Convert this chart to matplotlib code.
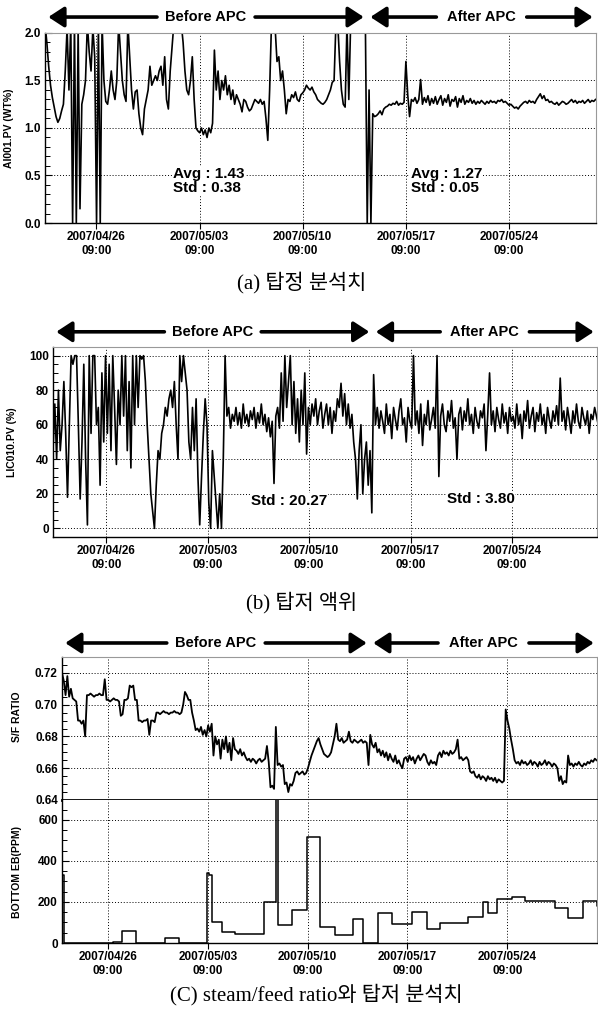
import matplotlib
matplotlib.use("Agg")
import matplotlib.pyplot as plt
import matplotlib.dates as mdates
from matplotlib.ticker import MultipleLocator, FormatStrFormatter
import numpy as np
import pandas as pd

plt.rcParams["font.family"] = ["Liberation Sans", "DejaVu Sans"]
plt.rcParams["font.weight"] = "bold"
plt.rcParams["axes.labelweight"] = "bold"

# ---------------- data ----------------
tick_times = ["2007-04-26 09:00", "2007-05-03 09:00", "2007-05-10 09:00",
              "2007-05-17 09:00", "2007-05-24 09:00"]
tick_labels = ["2007/04/26\n09:00", "2007/05/03\n09:00", "2007/05/10\n09:00",
               "2007/05/17\n09:00", "2007/05/24\n09:00"]
apc_switch = "2007-05-14 18:00"

# (a) top analyser AI001.PV, 3-hourly samples (x100)
ai001_start = "2007-04-22 21:15"
ai001_x100 = [
    210, 190, 165, 145, 132, 122, 112, 106, 110, 118,
    125, 160, 205, 140, 210, 0, 210, 0, 205, 15,
    125, 135, 150, 210, 180, 160, 205, 175, 0, 210,
    0, 210, 150, 128, 125, 140, 160, 140, 130, 150,
    210, 180, 150, 135, 128, 210, 175, 140, 120, 138,
    140, 115, 100, 93, 120, 130, 140, 165, 145, 150,
    155, 150, 160, 165, 145, 175, 130, 120, 160, 185,
    210, 210, 210, 210, 210, 190, 160, 140, 135, 150,
    175, 130, 100, 97, 95, 100, 93, 98, 90, 100,
    95, 105, 182, 140, 160, 130, 150, 140, 155, 135,
    145, 130, 140, 125, 135, 130, 125, 117, 130, 128,
    122, 118, 120, 125, 130, 128, 126, 130, 125, 128,
    110, 87, 140, 210, 210, 205, 170, 175, 150, 160,
    140, 115, 130, 128, 135, 132, 138, 130, 128, 135,
    137, 140, 145, 142, 140, 143, 138, 135, 130, 128,
    126, 125, 127, 130, 135, 140, 148, 150, 210, 210,
    170, 140, 125, 122, 210, 130, 210, 210, 210, 210,
    210, 210, 210, 210, 210, 0, 140, 0, 115, 112,
    113, 115, 118, 114, 120, 122, 123, 125, 124, 126,
    125, 128, 124, 126, 125, 127, 170, 135, 112, 130,
    128, 132, 126, 130, 151, 125, 132, 127, 134, 124,
    131, 126, 133, 125, 130, 134, 124, 131, 127, 135,
    123, 130, 128, 133, 122, 131, 127, 134, 125, 129,
    127, 131, 126, 129, 125, 128, 126, 129, 127, 125,
    128, 126, 129, 127, 128, 126, 129, 128, 130, 127,
    128, 126, 124, 125, 123, 121, 122, 120, 123, 125,
    127, 128, 126, 129, 127, 128, 126, 130, 133, 136,
    131, 134, 129, 130, 127, 128, 126, 125, 127, 124,
    126, 128, 127, 125, 126, 128, 130, 127, 129, 126,
    128, 127, 129, 126, 128, 130, 127, 129, 128, 130,
]
ai001_notes = ["Avg : 1.43\nStd : 0.38", "Avg : 1.27\nStd : 0.05"]
ai001_note_at = [("2007-05-01 13:00", 0.44), ("2007-05-17 17:00", 0.44)]

# (b) bottom level LIC010.PV, 3-hourly samples (%)
lic010_start = "2007-04-22 16:45"
lic010 = [
    45, 72, 40, 80, 45, 60, 85, 55, 18, 60,
    100, 95, 100, 100, 60, 17, 50, 95, 40, 2,
    100, 55, 100, 100, 60, 70, 25, 90, 50, 100,
    55, 95, 45, 100, 70, 37, 80, 60, 100, 65,
    100, 45, 85, 35, 100, 60, 100, 70, 100, 98,
    100, 85, 60, 40, 20, 10, 0, 25, 45, 40,
    55, 60, 70, 65, 75, 80, 70, 85, 60, 40,
    100, 85, 100, 90, 80, 50, 40, 70, 45, 75,
    30, 2, 30, 55, 75, 60, 15, 0, 45, 30,
    15, 0, 20, 0, 40, 100, 65, 70, 58, 66,
    62, 70, 60, 67, 58, 72, 61, 66, 59, 68,
    63, 70, 58, 67, 61, 72, 60, 66, 56, 64,
    53, 62, 26, 65, 70, 58, 90, 62, 100, 70,
    85, 100, 60, 85, 55, 75, 50, 80, 60, 90,
    43, 70, 60, 72, 65, 75, 60, 68, 73, 58,
    66, 72, 60, 70, 55, 68, 62, 75, 70, 84,
    65, 78, 60, 72, 58, 66, 50, 40, 17, 45,
    60, 20, 40, 50, 25, 45, 9, 89, 60, 70,
    58, 68, 62, 55, 72, 60, 66, 52, 70, 63,
    57, 68, 75, 60, 64, 50, 70, 62, 58, 100,
    60, 68, 55, 72, 48, 66, 60, 74, 57, 63,
    70, 58, 100, 30, 65, 72, 60, 56, 68, 62,
    74, 58, 64, 40, 66, 70, 57, 68, 62, 75,
    60, 66, 55, 70, 62, 58, 68, 64, 72, 45,
    66, 90, 60, 68, 56, 70, 63, 58, 72, 61,
    67, 55, 70, 62, 65, 58, 72, 60, 66, 52,
    68, 62, 74, 58, 65, 70, 56, 67, 62, 72,
    60, 66, 55, 70, 63, 58, 68, 62, 71, 60,
    87, 62, 68, 57, 70, 63, 55, 68, 61, 72,
    62, 58, 70, 64, 60, 68, 55, 66, 63, 70,
    65, 60,
]
lic010_notes = ["Std : 20.27", "Std : 3.80"]
lic010_note_at = [("2007-05-06 09:00", 16), ("2007-05-19 21:00", 17)]

# (c) steam/feed ratio, 3-hourly samples (x1000)
sf_start = "2007-04-23 03:30"
sf_x1000 = [
    720, 715, 706, 718, 705, 710, 704, 703, 702, 690,
    690, 688, 690, 680, 706, 706, 707, 706, 705, 706,
    706, 707, 706, 706, 716, 703, 703, 702, 703, 704,
    703, 703, 702, 693, 694, 703, 703, 704, 712, 711,
    712, 703, 703, 690, 690, 689, 690, 690, 691, 681,
    690, 690, 689, 695, 695, 694, 695, 696, 695, 695,
    694, 695, 695, 696, 695, 695, 694, 695, 700, 708,
    706, 703, 703, 695, 690, 684, 685, 683, 686, 681,
    684, 680, 687, 683, 688, 668, 680, 675, 678, 666,
    678, 672, 680, 670, 676, 665, 679, 672, 671, 669,
    672, 668, 670, 667, 665, 666, 664, 666, 665, 663,
    665, 666, 664, 665, 666, 674, 664, 648, 649, 647,
    686, 662, 663, 661, 662, 650, 651, 645, 650, 649,
    652, 657, 658, 656, 657, 658, 656, 657, 660, 664,
    668, 671, 674, 677, 679, 675, 672, 669, 668, 667,
    668, 670, 675, 680, 688, 678, 677, 679, 676, 677,
    678, 683, 677, 676, 678, 677, 676, 677, 678, 676,
    677, 676, 662, 681, 675, 673, 676, 670, 672, 668,
    671, 667, 670, 665, 669, 666, 664, 668, 663, 665,
    662, 660, 666, 667, 664, 668, 665, 667, 663, 666,
    668, 665, 667, 669, 668, 664, 662, 665, 663, 664,
    662, 668, 670, 667, 671, 669, 670, 668, 671, 669,
    670, 672, 678, 666, 667, 665, 666, 667, 665, 658,
    657, 658, 655, 654, 656, 653, 655, 654, 652, 655,
    653, 654, 652, 654, 651, 653, 652, 651, 652, 697,
    690, 685, 678, 672, 665, 663, 664, 662, 665, 663,
    664, 662, 663, 665, 662, 664, 663, 661, 664, 662,
    663, 665, 662, 664, 663, 661, 663, 662, 660, 652,
    655, 650, 652, 651, 668, 662, 663, 661, 663, 662,
    664, 662, 661, 663, 662, 664, 663, 665, 664, 666,
    665,
]

# (c) bottom EB lab analysis, stepwise (ppm)
eb_times = [
    "2007-04-23 03:30", "2007-04-23 07:00", "2007-04-26 17:00", "2007-04-27 08:30",
    "2007-04-28 08:00", "2007-04-30 09:00", "2007-05-01 08:30", "2007-05-03 08:00",
    "2007-05-03 11:00", "2007-05-03 16:00", "2007-05-04 09:00", "2007-05-05 07:00",
    "2007-05-07 08:00", "2007-05-08 04:00", "2007-05-08 07:30", "2007-05-09 07:00",
    "2007-05-10 08:00", "2007-05-11 06:00", "2007-05-12 07:30", "2007-05-13 13:30",
    "2007-05-14 06:30", "2007-05-15 08:00", "2007-05-16 07:30", "2007-05-17 17:00",
    "2007-05-18 18:30", "2007-05-19 16:00", "2007-05-21 15:00", "2007-05-22 16:30",
    "2007-05-23 01:00", "2007-05-23 16:00", "2007-05-24 17:30", "2007-05-25 15:00",
    "2007-05-27 18:00", "2007-05-28 15:30", "2007-05-29 17:00", "2007-05-30 16:00",
    "2007-05-30 22:00",
]
eb_ppm = [
    330, 0, 5, 60,
    0, 22, 2, 340,
    330, 100, 55, 42,
    198, 760, 90, 160,
    515, 80, 40, 117,
    0, 145, 95, 150,
    70, 98, 128, 198,
    145, 215, 225, 205,
    170, 120, 205, 180,
    180,
]


def num(t):
    return mdates.date2num(pd.to_datetime(t).to_pydatetime())


def series_x(start, n):
    return mdates.date2num(pd.date_range(start, periods=n, freq="3h").to_pydatetime())


# ---------------- figure ----------------
W, H = 598, 1017
fig = plt.figure(figsize=(W / 100, H / 100), dpi=100)


def box(l, t, r, b):
    return [l / W, 1 - b / H, (r - l) / W, (b - t) / H]


ax_a = fig.add_axes(box(45, 33, 596, 223))
ax_b = fig.add_axes(box(53, 347, 597, 537))
ax_c1 = fig.add_axes(box(62, 657, 597, 800))
ax_c2 = fig.add_axes(box(62, 800, 597, 943))

grid_kw = dict(color="k", linestyle=(0, (1, 2)), linewidth=0.7)
arrow_kw = dict(arrowstyle="-|>,head_length=0.95,head_width=0.62", lw=2.6, color="k",
                shrinkA=0, shrinkB=0, mutation_scale=10)


def style(ax, xlim, ylim, major, minor, fmt, xlabels=True):
    ax.set_xlim(num(xlim[0]), num(xlim[1]))
    ax.set_ylim(*ylim)
    ax.set_xticks(num(tick_times))
    if xlabels:
        ax.set_xticklabels(tick_labels)
    else:
        ax.set_xticklabels([])
    ax.yaxis.set_major_locator(MultipleLocator(major))
    ax.yaxis.set_minor_locator(MultipleLocator(minor))
    ax.yaxis.set_major_formatter(FormatStrFormatter(fmt))
    ax.grid(True, which="major", **grid_kw)
    ax.tick_params(axis="x", direction="out", length=4 if xlabels else 0, width=0.8,
                   labelsize=8.5, pad=2)
    ax.tick_params(axis="y", which="major", direction="in", length=5, width=0.8,
                   labelsize=8.5, pad=3)
    ax.tick_params(axis="y", which="minor", direction="in", length=3.5, width=0.7)
    for s in ["top", "right"]:
        ax.spines[s].set_color("0.6")
        ax.spines[s].set_linewidth(0.8)
    for s in ["left", "bottom"]:
        ax.spines[s].set_linewidth(1.0)


def apc_header(ax, y, gaps):
    x0, x1 = ax.get_xlim()
    sw = (num(apc_switch) - x0) / (x1 - x0)
    for lo, hi, label, gap in [(0.0, sw, "Before APC", gaps[0]), (sw, 1.0, "After APC", gaps[1])]:
        mid = (lo + hi) / 2
        ax.text(mid, y, label, transform=ax.transAxes, ha="center", va="center",
                fontsize=10.5, clip_on=False)
        ax.annotate("", xy=(lo + 0.006, y), xytext=(mid - gap, y), xycoords="axes fraction",
                    textcoords="axes fraction", arrowprops=arrow_kw, annotation_clip=False)
        ax.annotate("", xy=(hi - 0.006, y), xytext=(mid + gap, y), xycoords="axes fraction",
                    textcoords="axes fraction", arrowprops=arrow_kw, annotation_clip=False)


def notes(ax, texts, places):
    for txt, (t, v) in zip(texts, places):
        ax.text(num(t), v, txt, ha="left", va="center", fontsize=11, linespacing=1.05,
                bbox=dict(facecolor="white", edgecolor="none", pad=0.5), zorder=3)


# (a)
ax_a.plot(series_x(ai001_start, len(ai001_x100)), np.array(ai001_x100) / 100,
          color="k", lw=1.2)
style(ax_a, ("2007-04-22 21:15", "2007-05-30 07:00"), (0, 2), 0.5, 0.1, "%.1f")
ax_a.set_ylabel("AI001.PV (WT%)", fontsize=7.5)
ax_a.yaxis.set_label_coords(-0.056, 0.5)
apc_header(ax_a, 1.084, (0.089, 0.082))
notes(ax_a, ai001_notes, ai001_note_at)

# (b)
ax_b.plot(series_x(lic010_start, len(lic010)), lic010, color="k", lw=1.2)
style(ax_b, ("2007-04-22 16:45", "2007-05-30 05:40"), (-5, 105), 20, 5, "%d")
ax_b.set_ylabel("LIC010.PV (%)", fontsize=7.5)
ax_b.yaxis.set_label_coords(-0.066, 0.5)
apc_header(ax_b, 1.08, (0.089, 0.082))
notes(ax_b, lic010_notes, lic010_note_at)

# (c) top: steam/feed ratio
ax_c1.plot(series_x(sf_start, len(sf_x1000)), np.array(sf_x1000) / 1000,
           color="k", lw=1.3)
style(ax_c1, ("2007-04-23 03:30", "2007-05-30 16:10"), (0.64, 0.73), 0.02, 0.005,
      "%.2f", xlabels=False)
ax_c1.spines["bottom"].set_linewidth(2.0)
ax_c1.spines["bottom"].set_color("k")
ax_c1.set_ylabel("S/F RATIO", fontsize=7.5)
ax_c1.yaxis.set_label_coords(-0.075, 0.58)
apc_header(ax_c1, 1.098, (0.092, 0.085))

# (c) bottom: bottom EB
ax_c2.step(num(eb_times), eb_ppm, where="post", color="k", lw=1.1)
style(ax_c2, ("2007-04-23 03:30", "2007-05-30 16:10"), (0, 697), 200, 50, "%d")
ax_c2.spines["top"].set_visible(False)
ax_c2.set_ylabel("BOTTOM EB(PPM)", fontsize=7.5)
ax_c2.yaxis.set_label_coords(-0.075, 0.5)

# captions
cap_kw = dict(ha="center", va="center", fontsize=15, fontweight="normal",
              family=["Liberation Serif", "Noto Sans CJK KR"])
fig.text(302 / W, 1 - 283 / H, "(a) 탑정 분석치", **cap_kw)
fig.text(302 / W, 1 - 603 / H, "(b) 탑저 액위", **cap_kw)
fig.text(316 / W, 1 - 995 / H, "(C) steam/feed ratio와 탑저 분석치", **cap_kw)

fig.savefig("out.png", dpi=100)
